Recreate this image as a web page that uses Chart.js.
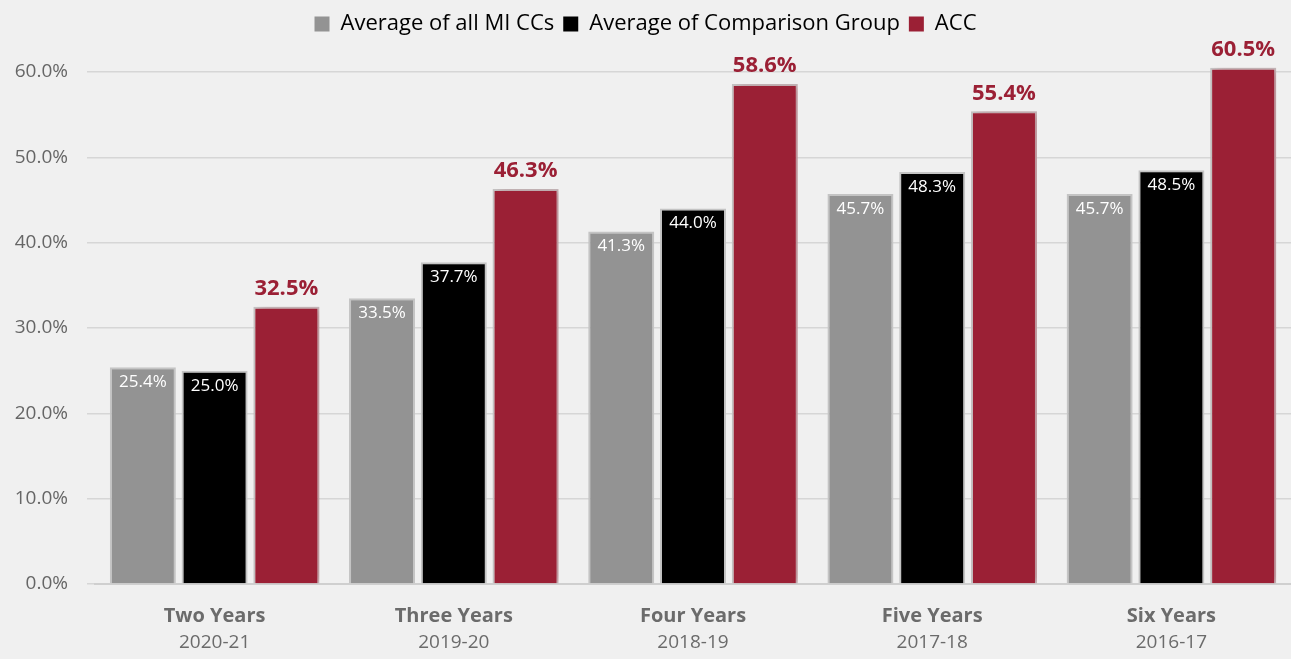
<!DOCTYPE html>
<html>
<head>
<meta charset="utf-8">
<script src="https://cdn.jsdelivr.net/npm/chart.js@4.4.1/dist/chart.umd.min.js"></script>
<style>
html,body{margin:0;padding:0;background:#f0f0f0;}
#wrap{width:1291px;height:659px;position:relative;}
</style>
</head>
<body>
<div id="wrap"><canvas id="c" width="1291" height="659"></canvas></div>
<script>
const categories = ['Two Years','Three Years','Four Years','Five Years','Six Years'];
const yearLabels = ['2020-21','2019-20','2018-19','2017-18','2016-17'];
const seriesNames = ['Average of all MI CCs','Average of Comparison Group','ACC'];
const allMiCCs = [25.4, 33.5, 41.3, 45.7, 45.7];
const comparisonGroup = [25.0, 37.7, 44.0, 48.3, 48.5];
const acc = [32.5, 46.3, 58.6, 55.4, 60.5];
const yTicks = [0, 10, 20, 30, 40, 50, 60];

const FONT = "'Open Sans', 'Noto Sans', sans-serif";
const RED = '#9b2035';

const legendMargin = {
  id: 'legendMargin',
  beforeInit(chart) {
    const fit = chart.legend.fit;
    chart.legend.fit = function () { fit.bind(chart.legend)(); this.height += 10; };
  }
};

const shadowPlugin = {
  id: 'shadow',
  beforeDatasetDraw(chart, args) {
    if (args.index === 2) {
      const ctx = chart.ctx;
      ctx.save();
      ctx.shadowColor = 'rgba(170,40,60,0.35)';
      ctx.shadowBlur = 8;
      ctx.shadowOffsetX = 5;
      ctx.shadowOffsetY = 0;
    }
  },
  afterDatasetDraw(chart, args) {
    if (args.index === 2) chart.ctx.restore();
  }
};

const labelPlugin = {
  id: 'valueLabels',
  afterDatasetsDraw(chart) {
    const ctx = chart.ctx;
    ctx.save();
    ctx.textAlign = 'center';
    ctx.textBaseline = 'middle';
    chart.data.datasets.forEach((ds, di) => {
      const meta = chart.getDatasetMeta(di);
      meta.data.forEach((bar, i) => {
        const txt = ds.data[i].toFixed(1) + '%';
        if (di === 2) {
          ctx.font = "bold 22px " + FONT;
          ctx.fillStyle = RED;
          ctx.fillText(txt, bar.x, bar.y - 18);
        } else {
          ctx.font = "17px " + FONT;
          ctx.fillStyle = '#ffffff';
          ctx.fillText(txt, bar.x, bar.y + 15);
        }
      });
    });
    const xs = chart.scales.x;
    ctx.font = "19px " + FONT;
    ctx.fillStyle = '#6b6b6b';
    yearLabels.forEach((y, i) => {
      ctx.fillText(y, xs.getPixelForTick(i), 643);
    });
    ctx.restore();
  }
};

const barStyle = (color) => ({
  backgroundColor: color,
  borderColor: '#c4c4c4',
  borderWidth: 2,
  borderSkipped: 'bottom',
  categoryPercentage: 0.9,
  barPercentage: 0.92
});

new Chart(document.getElementById('c'), {
  type: 'bar',
  data: {
    labels: categories,
    datasets: [
      Object.assign({ label: seriesNames[0], data: allMiCCs }, barStyle('#939393')),
      Object.assign({ label: seriesNames[1], data: comparisonGroup }, barStyle('#000000')),
      Object.assign({ label: seriesNames[2], data: acc }, barStyle(RED))
    ]
  },
  options: {
    responsive: false,
    animation: false,
    layout: { padding: { top: 4, right: 0, left: 0, bottom: 0 } },
    plugins: {
      legend: {
        position: 'top',
        labels: {
          font: { family: FONT, size: 22 },
          color: '#111111',
          boxWidth: 15,
          boxHeight: 15,
          padding: 9,
          generateLabels(chart) {
            return chart.data.datasets.map((ds, i) => ({
              text: ds.label,
              fillStyle: ds.backgroundColor,
              strokeStyle: ds.backgroundColor,
              lineWidth: 0,
              datasetIndex: i,
              hidden: false
            }));
          }
        }
      },
      tooltip: { enabled: false }
    },
    scales: {
      x: {
        grid: { display: false, drawTicks: false },
        border: { color: '#cfcfcf', width: 2 },
        ticks: {
          font: { family: FONT, size: 20, weight: 'bold' },
          color: '#6b6b6b',
          padding: 20
        },
        afterFit(scale) { scale.height = 75; }
      },
      y: {
        min: 0,
        max: 62,
        afterBuildTicks(scale) { scale.ticks = yTicks.map(v => ({ value: v })); },
        grid: { color: '#d6d6d6', lineWidth: 1.5, tickLength: 8 },
        border: { display: false },
        ticks: {
          font: { family: FONT, size: 19 },
          color: '#666666',
          padding: 19,
          callback: (v) => Number(v).toFixed(1) + '%'
        },
        afterFit(scale) { scale.width = 95; }
      }
    }
  },
  plugins: [legendMargin, shadowPlugin, labelPlugin]
});
</script>
</body>
</html>
